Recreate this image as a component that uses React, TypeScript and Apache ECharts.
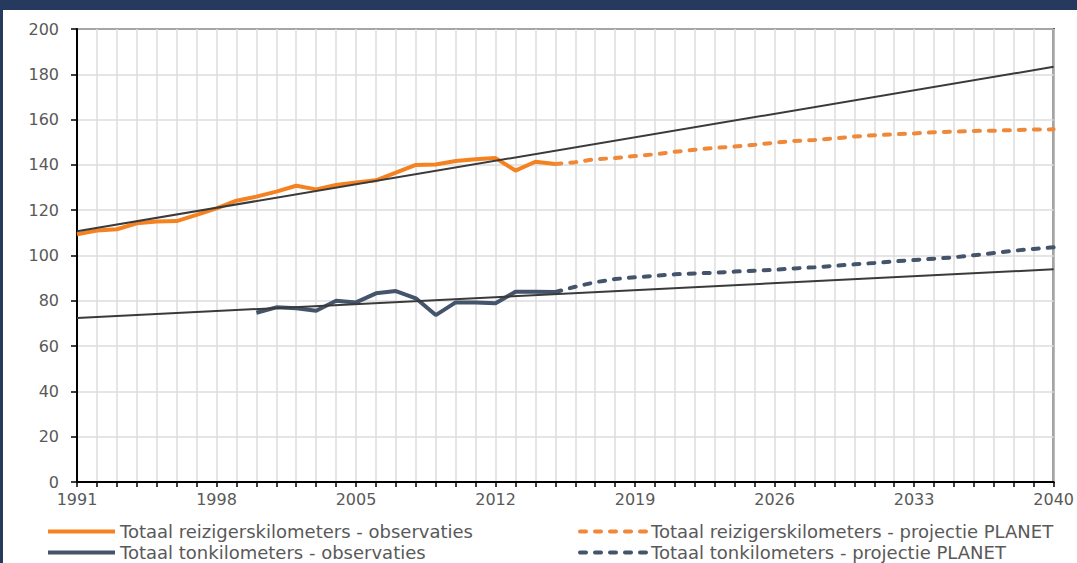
import React, { useEffect, useRef } from "react";
import * as echarts from "echarts";

const reizObsStart = 1991;
const reizObs = [109.4, 111.0, 111.6, 114.2, 115.0, 115.2, 117.9, 120.8, 124.2, 126.0, 128.2, 130.8, 129.2, 131.1, 132.2, 133.2, 136.6, 140.0, 140.2, 141.7, 142.5, 143.0, 137.5, 141.4, 140.4];
const projStart = 2015;
const reizProj = [140.4, 141.2, 142.5, 143.0, 143.9, 144.7, 145.8, 146.7, 147.5, 148.1, 148.9, 149.8, 150.6, 151.0, 151.7, 152.5, 153.1, 153.5, 153.9, 154.4, 154.7, 155.0, 155.1, 155.4, 155.6, 155.7];
const tonObsStart = 2000;
const tonObs = [74.7, 77.1, 76.7, 75.6, 80.0, 79.3, 83.3, 84.3, 81.1, 73.7, 79.3, 79.2, 78.9, 84.0, 84.0, 83.9];
const tonProj = [83.9, 86.2, 88.2, 89.6, 90.4, 91.0, 91.7, 92.1, 92.4, 92.9, 93.3, 93.7, 94.3, 94.8, 95.4, 96.1, 96.7, 97.4, 98.0, 98.6, 99.2, 100.1, 101.1, 102.1, 102.9, 103.6];
const trendYears = [1991, 2040];
const reizTrend = [110.7, 183.3];
const tonTrend = [72.4, 93.9];

const names = [
  "Totaal reizigerskilometers - observaties",
  "Totaal reizigerskilometers - projectie PLANET",
  "Totaal tonkilometers - observaties",
  "Totaal tonkilometers - projectie PLANET",
];

const pairs = (start: number, vals: number[]) => vals.map((v, i) => [start + i, v]);

const FONT = "DejaVu Sans";
const TXT = "#595959";
const ORANGE = "#F58220";
const ORANGE_D = "#F0883A";
const BLUE = "#44546A";
const TREND = "#3a3a3a";

export default function App() {
  const ref = useRef<HTMLDivElement>(null);
  useEffect(() => {
    const chart = echarts.init(ref.current!, undefined, { renderer: "svg" });
    const legendText = { fontFamily: FONT, fontSize: 18, color: TXT, lineHeight: 19 };
    const legendBase = {
      top: 522,
      height: 60,
      orient: "vertical",
      itemHeight: 14,
      itemGap: 2,
      textStyle: legendText,
      itemStyle: { opacity: 0 },
      lineStyle: { width: 4 },
      padding: 0,
    };
    chart.setOption({
      animation: false,
      backgroundColor: "#fff",
      textStyle: { fontFamily: FONT },
      grid: { left: 77, right: 21, top: 29, bottom: 81, show: true, borderColor: "#000", borderWidth: 2 },
      xAxis: {
        type: "value",
        min: 1991,
        max: 2040,
        interval: 1,
        axisLine: { lineStyle: { color: "#000", width: 2 } },
        axisTick: { show: true, length: 5, lineStyle: { color: "#000", width: 1.5 } },
        axisLabel: {
          margin: 9,
          fontFamily: FONT,
          fontSize: 16,
          color: TXT,
          formatter: (v: number) => ((v - 1991) % 7 === 0 ? String(v) : ""),
        },
        splitLine: { show: true, lineStyle: { color: "#dcdcdc", width: 1.5 } },
      },
      yAxis: {
        type: "value",
        min: 0,
        max: 200,
        interval: 20,
        axisLine: { show: true, lineStyle: { color: "#000", width: 2 } },
        axisTick: { show: true, length: 6, lineStyle: { color: "#000", width: 1.5 } },
        axisLabel: { margin: 18, fontFamily: FONT, fontSize: 16, color: TXT },
        splitLine: { show: true, lineStyle: { color: "#dcdcdc", width: 1.5 } },
      },
      legend: [
        { ...legendBase, left: 46, itemWidth: 67, data: [names[0], names[2]] },
        { ...legendBase, left: 578, itemWidth: 66, data: [names[1], names[3]] },
      ],
      graphic: [
        { type: "rect", shape: { x: 0, y: 0, width: 1077, height: 10 }, style: { fill: "#253a5e" }, z: 100 },
        { type: "rect", shape: { x: 0, y: 0, width: 3, height: 563 }, style: { fill: "#253a5e" }, z: 100 },
      ],
      series: [
        {
          name: names[0],
          type: "line",
          data: pairs(reizObsStart, reizObs),
          symbol: "none",
          lineStyle: { color: ORANGE, width: 4 },
          itemStyle: { color: ORANGE },
          z: 2,
        },
        {
          name: names[1],
          type: "line",
          data: pairs(projStart, reizProj),
          symbol: "none",
          lineStyle: { color: ORANGE_D, width: 4, type: [6, 9], cap: "round" },
          itemStyle: { color: ORANGE_D },
          z: 2,
        },
        {
          name: names[2],
          type: "line",
          data: pairs(tonObsStart, tonObs),
          symbol: "none",
          lineStyle: { color: BLUE, width: 4 },
          itemStyle: { color: BLUE },
          z: 2,
        },
        {
          name: names[3],
          type: "line",
          data: pairs(projStart, tonProj),
          symbol: "none",
          lineStyle: { color: BLUE, width: 4, type: [6, 9], cap: "round" },
          itemStyle: { color: BLUE },
          z: 2,
        },
        {
          name: "trend reiz",
          type: "line",
          data: trendYears.map((y, i) => [y, reizTrend[i]]),
          symbol: "none",
          lineStyle: { color: TREND, width: 2 },
          z: 3,
        },
        {
          name: "trend ton",
          type: "line",
          data: trendYears.map((y, i) => [y, tonTrend[i]]),
          symbol: "none",
          lineStyle: { color: TREND, width: 2 },
          z: 3,
        },
      ],
    });
    return () => chart.dispose();
  }, []);
  return (
    <div
      ref={ref}
      style={{ position: "absolute", left: 0, top: 0, width: 1077, height: 563, background: "#fff" }}
    />
  );
}
